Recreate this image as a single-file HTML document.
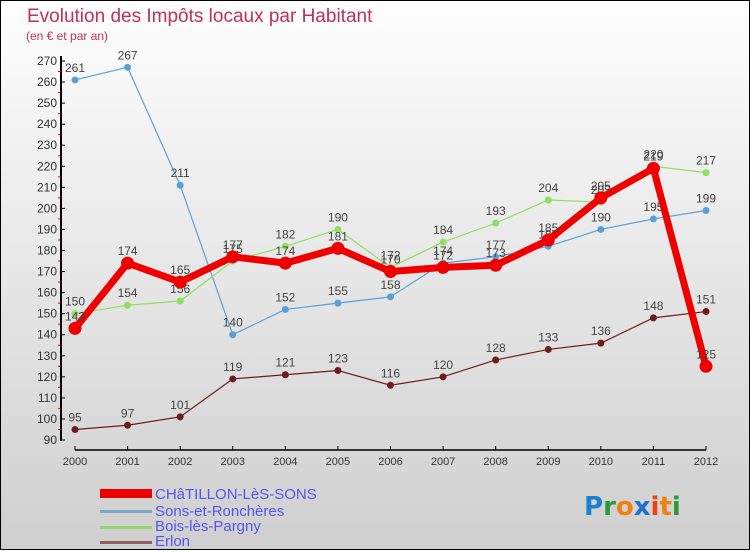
<!DOCTYPE html>
<html><head><meta charset="utf-8"><style>
html,body{margin:0;padding:0}
body{width:750px;height:550px;overflow:hidden;font-family:"Liberation Sans",sans-serif}
</style></head><body>
<svg id="c" width="750" height="550" xmlns="http://www.w3.org/2000/svg">
<defs><linearGradient id="bg" x1="0" y1="0" x2="0" y2="1"><stop offset="0" stop-color="#fefefe"/><stop offset="1" stop-color="#cfcfcf"/></linearGradient></defs>
<rect x="0.5" y="0.5" width="749" height="549" fill="url(#bg)" stroke="#000"/>
<text x="27" y="22" font-size="19" fill="#c0305a">Evolution des Impôts locaux par Habitant</text>
<text x="26" y="40" font-size="12" fill="#c0305a">(en € et par an)</text>
<g id="axes"></g><g id="series"></g>
<g font-size="15" fill="#5555ee">
<rect x="100" y="489" width="52" height="9" fill="#e00"/>
<text x="155" y="499">CHâTILLON-LèS-SONS</text>
<rect x="100" y="510" width="52" height="3" fill="#7fa8c8"/>
<text x="155" y="516">Sons-et-Ronchères</text>
<rect x="100" y="526" width="52" height="3" fill="#8fd870"/>
<text x="155" y="531">Bois-lès-Pargny</text>
<rect x="100" y="541" width="52" height="3" fill="#906060"/>
<text x="155" y="546">Erlon</text>
</g>
<g font-size="26" font-weight="bold" font-family="'DejaVu Sans',sans-serif">
<text x="584" y="515"><tspan fill="#1e7fd0">P</tspan><tspan fill="#2a9a3a">r</tspan><tspan fill="#f08010">o</tspan><tspan fill="#1e6fd0">x</tspan><tspan fill="#f04010">i</tspan><tspan fill="#f08010">t</tspan><tspan fill="#2a9a3a">i</tspan></text>
</g>
</svg>
<script>
const years=[2000,2001,2002,2003,2004,2005,2006,2007,2008,2009,2010,2011,2012];
const yTicks=[90,100,110,120,130,140,150,160,170,180,190,200,210,220,230,240,250,260,270];
const chatillon=[143,174,165,177,174,181,170,172,173,185,205,219,125];
const sons=[261,267,211,140,152,155,158,174,177,182,190,195,199];
const bois=[150,154,156,175,182,190,172,184,193,204,203,220,217];
const erlon=[95,97,101,119,121,123,116,120,128,133,136,148,151];
const NS='http://www.w3.org/2000/svg';
const x=i=>75+i*(706-75)/12;
const y=v=>440-(v-90)*(440-61)/180;
function mk(t,a,p){const e=document.createElementNS(NS,t);for(const k in a)e.setAttribute(k,a[k]);p.appendChild(e);return e;}
const ax=document.getElementById('axes');
const yl=mk('line',{x1:61,y1:56,x2:61,y2:441,stroke:'#000','stroke-width':2},ax);


const xl=mk('line',{x1:75,y1:450,x2:706,y2:450,stroke:'#000','stroke-width':1.5},ax);


yTicks.forEach(v=>{
 mk('line',{x1:61,y1:y(v),x2:65,y2:y(v),stroke:'#000'},ax);
 if(v<270)mk('line',{x1:58,y1:y(v+5),x2:61,y2:y(v+5),stroke:'#e00'},ax);
 const t=mk('text',{x:57,y:y(v)+4,'font-size':12,'text-anchor':'end',fill:'#333'},ax);
 t.textContent=v;
 
 
});
years.forEach((yr,i)=>{
 mk('line',{x1:x(i),y1:446,x2:x(i),y2:450,stroke:'#000'},ax);
 const t=mk('text',{x:x(i),y:465,'font-size':11,'text-anchor':'middle',fill:'#333'},ax);
 t.textContent=yr;
 
 
});
const sg=document.getElementById('series');
function draw(vals,color,lw,r,name){
 const g=mk('g',{},sg);
 
 
 const l=mk('polyline',{points:vals.map((v,i)=>x(i)+','+y(v)).join(' '),fill:'none',stroke:color,'stroke-width':lw},g);
 
 
 vals.forEach((v,i)=>{
  const c=mk('circle',{cx:x(i),cy:y(v),r:r,fill:color},g);
  
  
  const t=mk('text',{x:x(i),y:y(v)-8,'font-size':12,'text-anchor':'middle',fill:'#444'},g);
  t.textContent=v;
  
  
 });
}
draw(erlon,'#6e1c1c',1.2,3.5,'erlon');
draw(sons,'#5aa0d8',1.2,3.5,'sons');
draw(bois,'#8fe060',1.2,3.5,'bois');
draw(chatillon,'#ee0000',7,6.5,'chatillon');
</script>
</body></html>
